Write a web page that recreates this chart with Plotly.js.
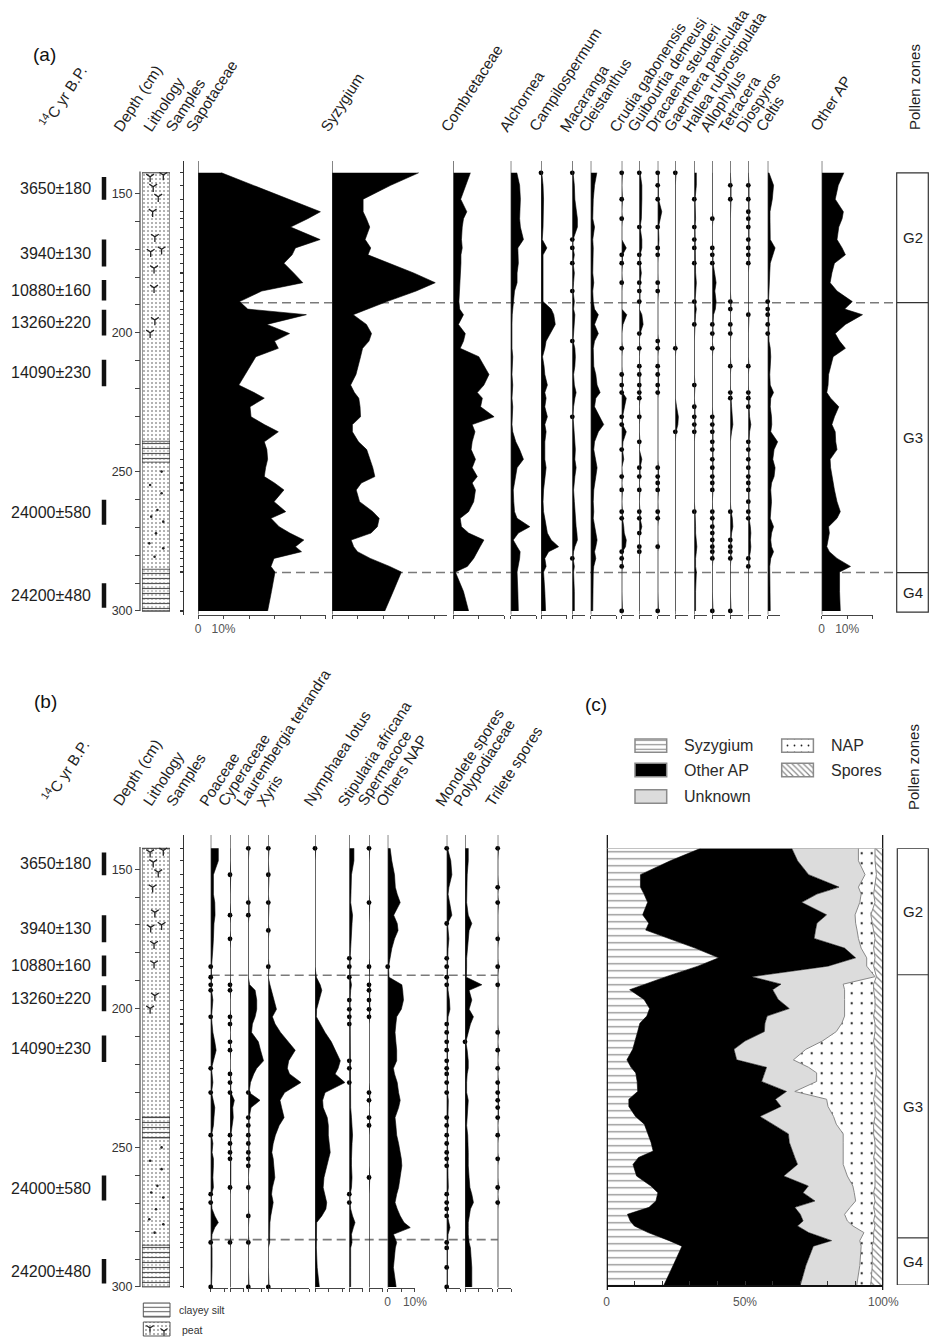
<!DOCTYPE html>
<html>
<head>
<meta charset="utf-8">
<script src="https://cdn.plot.ly/plotly-3.0.1.min.js"></script>
<style>
html,body{margin:0;padding:0;background:#fff;}
#chart{width:934px;height:1342px;}
</style>
</head>
<body>
<div id="chart"></div>
<script>
// ================= DATA =================
const depths = [142.5, 147, 152, 156.5, 159, 162, 166.5, 169.5, 172, 175,
  178.5, 182, 185, 188.8, 191.5, 193.5, 197, 200.3, 203, 205.6,
  208.6, 212, 215, 218.8, 221.5, 223.5, 226.6, 230.2, 233, 235.6,
  239.2, 242, 245.5, 248.5, 251.7, 254, 256.5, 260.7, 264.3, 266.7,
  269.7, 272, 274.5, 276.9, 278.7, 281.1, 284, 286, 293, 300];

// (a) arboreal pollen, %
const sapotaceae = [9.2, 21.6, 35.4, 48, 43, 36.3, 47.9, 38.2, 36.9, 33.7,
  37.5, 41.1, 25, 16.3, 19.5, 42.5, 27, 35.9, 30, 31.5,
  22.7, 20.5, 18.5, 16, 22, 26, 20.4, 20.8, 26, 31.5,
  26, 27, 27.3, 26.5, 26, 30, 33.7, 29.8, 34.4, 28.6,
  31.8, 36, 41.5, 38.2, 40.6, 29.8, 28.6, 30.2, 28.8, 27.3];
const syzygium = [34, 23, 12.2, 12.2, 13.5, 14.8, 13, 15.2, 14.1, 22.4,
  32, 40.5, 33, 21.5, 14, 8.3, 13.5, 15.5, 14.5, 12,
  11.2, 10.2, 9.4, 7.3, 8.8, 10.5, 11, 11.2, 8, 8,
  10.4, 13.6, 15, 16, 16.8, 11.5, 9.5, 10.8, 16, 18.5,
  17.8, 15.3, 7.5, 8.5, 10, 15, 22.6, 27.2, 24, 20.7];
const combretaceae = [6.7, 5, 2.9, 5.3, 4, 3.5, 3.2, 3.5, 3, 3,
  2.8, 2.5, 2.5, 2.2, 2.5, 4, 2, 4.7, 4, 2.7,
  10, 12, 14, 12, 9.4, 11.4, 10.7, 16, 7.4, 8.5,
  7.4, 7, 8.7, 7.4, 9.4, 7.4, 8.7, 8, 6, 2.7,
  3.2, 6, 12, 10.5, 9.4, 8, 5.5, 0.8, 4, 6];
const alchornea = [2.4, 3.5, 3.8, 3.5, 3.5, 3.8, 5, 2.8, 3, 3,
  2.5, 2.5, 1.5, 1, 0.8, 0.6, 0.5, 0.5, 0.6, 0.5,
  0.8, 0.6, 0.5, 0.8, 0.6, 0.5, 0.8, 0.6, 0.5, 0.8,
  2, 3.5, 5, 2.5, 2, 1.5, 1, 1.2, 1.5, 2.5,
  7.5, 3, 1, 2.5, 3.7, 3.5, 3, 2.5, 2.8, 3];
const campilospermum = [0.3, 0.8, 1, 1, 0.8, 0.8, 0.5, 2.3, 0.8, 0.8,
  0.8, 1, 0.8, 0.8, 4, 5, 5.6, 3.5, 2, 1.5,
  0.6, 1.2, 1.5, 2.5, 1.5, 2, 1.5, 2.5, 1.5, 2,
  1.5, 1.5, 1.5, 2, 1.5, 1.2, 1, 0.8, 1, 1.5,
  2, 2.5, 4, 6.9, 3, 1.5, 2, 1, 1.5, 1.8];
const macaranga = [0.3, 0.8, 1, 1.5, 2, 2, 0.3, 0.3, 0.8, 0.3,
  0.8, 0.5, 0.3, 0.8, 0.5, 1, 0.8, 0.5, 0.3, 1,
  1.2, 1, 0.5, 0.8, 1.5, 1, 0.5, 0.3, 0.5, 0.8,
  1, 1.2, 1, 1.5, 1, 0.8, 0.5, 0.8, 1, 1.2,
  1.5, 1.8, 2, 1, 0.5, 0.3, 0.8, 0.5, 0.8, 0.8];
const cleistanthus = [2.4, 1.5, 1, 1, 0.8, 1.5, 0.8, 1, 1, 0.8,
  0.8, 1.2, 0.8, 1, 1.5, 3, 1.5, 3, 1.5, 1,
  1, 1.2, 2, 2.5, 3.7, 2, 1.5, 3.5, 5.1, 3,
  1.5, 1.2, 2, 2.5, 2, 1.5, 1.2, 1, 1.2, 1,
  1.5, 2, 2.5, 2, 1.5, 2, 1.2, 1, 0.8, 0.8];
const crudia = [0.3, 0, 0.3, 0, 0.3, 0, 0, 1.8, 0.3, 0.3,
  0, 0.3, 0, 0, 0, 2, 0.5, 0, 0, 0.3,
  0, 0, 0.3, 0.3, 0.3, 1.8, 1, 0.3, 0.3, 1.8,
  0.5, 0.3, 0.8, 0, 0.3, 0, 0.3, 0, 0.3, 0.3,
  0.8, 1, 1.8, 1.5, 0.3, 0.3, 0.3, 0, 0, 0.3];
const guibourtia = [0.3, 1, 1, 1, 0.8, 0.3, 1, 1, 0.3, 0.3,
  0.8, 0.3, 0.3, 0.3, 0, 1, 1.5, 0.3, 0, 0.3,
  0, 0.3, 0.3, 0.3, 0.3, 0.3, 0, 0.3, 0, 0,
  0.3, 0, 1, 0.3, 0.3, 0, 0.3, 0, 0.3, 0.3,
  1, 0.3, 0, 0.3, 0.3, 0, 0, 0, 0, 0];
const dracaena = [0.3, 0.3, 0.3, 1.6, 1, 0.3, 0.5, 0.3, 0.3, 0,
  0, 0.3, 0.3, 0, 0, 0, 0, 0, 0.3, 0.3,
  0, 0.3, 0.3, 0.3, 0.3, 0, 0, 0, 0, 0,
  0, 0, 0, 0.3, 0.3, 0.3, 0.3, 0, 0.3, 0.3,
  0, 0, 0, 0.3, 0, 0, 0, 0, 0, 0.3];
const gaertnera = [0.3, 0, 0, 0, 0, 0, 0, 0, 0, 0,
  0, 0, 0, 0, 0, 0, 0, 0, 0, 0.3,
  0, 0, 0, 0, 0, 0, 0.5, 1.2, 1, 0.3,
  0, 0, 0, 0, 0, 0, 0, 0, 0, 0,
  0, 0, 0, 0, 0, 0, 0, 0, 0, 0];
const hallea = [0.8, 0.8, 0.3, 0.5, 0.5, 0.3, 0.3, 0.3, 0.5, 0.3,
  0.5, 0.8, 0.5, 0.3, 0.8, 0.5, 0.3, 0, 0, 0,
  0, 0, 0, 0.3, 0, 0, 0.3, 0.3, 0.3, 0.3,
  0, 0, 0, 0, 0, 0, 0, 0, 0.3, 0.5,
  0.5, 0.5, 0.8, 1, 0.8, 0.5, 0.5, 0.8, 0.5, 0.5];
const allophylus = [0, 0, 0, 0, 0.3, 0, 0, 0.3, 0.3, 0.3,
  0.8, 1.5, 1, 1.5, 1.2, 0.5, 0.3, 0.3, 0, 0.3,
  0, 0, 0, 0, 0, 0, 0, 0.3, 0.3, 0.3,
  0.3, 0.3, 0.3, 0.3, 0.3, 0.3, 0.3, 0, 0.3, 0.3,
  0.3, 0.3, 0.3, 0.3, 0.3, 0.3, 0, 0, 0, 0.3];
const tetracera = [0, 0.3, 0.3, 0, 0, 0, 0, 0, 0, 0,
  0, 0, 0, 0.3, 0.3, 0, 0.3, 0.3, 0, 0,
  0, 0.3, 0, 0, 0.3, 0.3, 0.5, 0.8, 1, 0.5,
  0, 0, 0, 0, 0, 0, 0, 0, 0.3, 0.8,
  1, 0.5, 0.3, 0.3, 0.3, 0.3, 0, 0, 0, 0.3];
const diospyros = [0, 0.3, 0.3, 0.3, 0.3, 0.3, 0.3, 0.3, 0.3, 0.3,
  0, 0, 0, 0, 0, 0.3, 0, 0, 0, 0,
  0, 0.3, 0, 0, 0.3, 0.3, 0.3, 0.5, 1, 0.5,
  0.3, 0.3, 0.3, 0.3, 0.3, 0.3, 0.3, 0.3, 0.3, 0.3,
  0.8, 1, 0.8, 1, 0.8, 0.3, 0.3, 0, 0, 0];
const celtis = [0.5, 2.3, 1.8, 0.9, 0.9, 1, 1, 2.9, 2, 1,
  0.8, 0.5, 0.5, 0.3, 0.3, 0.3, 0.3, 0.3, 0.5, 1,
  1.2, 1, 0.8, 1, 2.3, 1.2, 1, 1.5, 1.6, 1.2,
  3.9, 2.5, 2, 2.9, 2.5, 1.5, 1.2, 1.5, 1.2, 1,
  2.3, 1.5, 1.2, 1.5, 2.3, 1.2, 0.8, 0.8, 0.9, 1];
const otherAP = [8.7, 6.5, 5.3, 8.5, 8, 6.7, 6, 8, 9.3, 5,
  4, 3.3, 6, 12, 9, 16, 9.3, 5.3, 7, 9.3,
  4.5, 3.5, 2.7, 2.5, 2, 3.5, 6.7, 5, 4, 5.3,
  5.5, 6, 3.3, 3.5, 4, 4.5, 5, 6, 7.3, 6,
  2.7, 3, 2.5, 2, 3, 6, 11.3, 7, 7, 7.3];

// (b) non-arboreal pollen and spores, %
const poaceae = [2.8, 2.8, 1, 1, 1, 1.5, 1.6, 1.2, 1, 1,
  0.8, 0.5, 0.3, 0.3, 0.3, 0.3, 0.8, 0.5, 0.3, 0.5,
  0.8, 1.5, 2, 1, 0.3, 0.5, 0.8, 0.3, 1, 1.5,
  1.2, 1, 0.3, 0.8, 0.5, 1, 1, 0.8, 1, 0.3,
  0.3, 0.5, 1.5, 2.8, 1.5, 0.5, 0.3, 0.5, 0.5, 0.3];
const cyperaceae = [0, 0, 0.3, 0, 0, 0, 0.3, 0, 0, 0.3,
  0, 0, 0, 0, 0.3, 0.3, 0, 0, 0.3, 0.3,
  0, 0.3, 0.3, 0, 0, 0.3, 0.3, 0.3, 1.6, 1,
  1.2, 0.8, 0.3, 0.3, 0.3, 0.3, 0.5, 0.5, 0.3, 0,
  0, 0, 0, 0, 0, 0, 0.3, 0, 0, 0];
const laurembergia = [0.3, 0, 0, 0, 0, 0.3, 0.3, 0, 0, 0,
  0, 0, 0, 0, 0.5, 2.5, 3.1, 3.1, 2.5, 1.5,
  1.2, 3.7, 4.5, 5.6, 3.1, 2, 0.8, 0.3, 4.3, 1,
  0.3, 0.3, 0.3, 0.3, 0.3, 0.3, 0.3, 0, 0.3, 0,
  0, 0, 0.3, 0, 0, 0, 0.3, 0, 0, 0.3];
const xyris = [0.3, 0, 0.3, 0, 0, 0.3, 0, 0, 0.3, 0,
  0, 0, 0.3, 0, 0.6, 1.2, 2.2, 3, 1.5, 2.5,
  4.5, 7.5, 9.9, 7.5, 7, 7.8, 12, 6, 4.3, 4.9,
  5.8, 4, 2.6, 1.8, 1.3, 1.8, 2.1, 2.4, 1.5, 1.2,
  1.8, 1.3, 0.9, 0.6, 0.5, 0.5, 0.5, 0, 0, 0.3];
const nymphaea = [0.3, 0, 0, 0, 0, 0, 0, 0, 0, 0,
  0, 0, 0, 0.5, 1.9, 2.5, 1.5, 0.6, 0.5, 2,
  3.7, 6, 7.5, 9.3, 8.5, 7.4, 11, 3.7, 2.8, 3,
  4.5, 4.9, 4.9, 5.2, 5.6, 5, 4.3, 3.3, 3, 3.5,
  4.3, 4, 2.5, 0.6, 0.6, 0.5, 0.5, 0.5, 0.8, 1.6];
const stipularia = [1.7, 1.7, 0.8, 0.8, 0.6, 0.5, 1.2, 1, 0.8, 0.8,
  0.5, 0.3, 0.3, 0.3, 0.8, 0.5, 0.3, 0.3, 0.3, 0.3,
  0.5, 0.5, 0.5, 0.3, 0.3, 0.5, 0.3, 0.5, 0.5, 0.5,
  0.8, 1, 1.2, 1, 0.8, 0.8, 0.8, 1, 0.8, 0.3,
  0.3, 0.5, 1.2, 2.1, 1.5, 0.8, 1, 0.5, 0.5, 0.5];
const spermacoce = [0.3, 0, 0, 0, 0, 0.3, 0, 0, 0, 0,
  0, 0, 0.3, 0, 0.3, 0.3, 0.3, 0.3, 0.3, 0,
  0, 0, 0, 0, 0, 0, 0, 0.3, 0.3, 0,
  0.3, 0.3, 0, 0, 0, 0, 0, 0.3, 0, 0,
  0, 0, 0, 0, 0, 0, 0, 0, 0, 0];
const othersNAP = [0.9, 1.5, 2.5, 2.8, 3.5, 4.6, 2.2, 3.5, 3.8, 2.5,
  1.5, 0.9, 0.3, 0.5, 5.2, 5.5, 5.8, 5, 3.3, 3,
  2.7, 3, 3.3, 3.3, 2.1, 2.5, 3.5, 4, 4.6, 4,
  2.7, 3, 3.3, 4, 4.6, 5, 5.2, 4.5, 4, 3.3,
  2.7, 3.5, 4.6, 6, 8.3, 2.1, 3.3, 2.8, 2.1, 3.1];
const monolete = [0.3, 1.5, 1.9, 0.8, 0.5, 1, 1.9, 0.3, 0.5, 0.8,
  0.5, 0.3, 0.3, 0.3, 0.3, 0.5, 1, 1.2, 0.5, 0.3,
  0.3, 0.3, 0.3, 0.3, 0.3, 0.3, 0.3, 0.3, 0.6, 0.5,
  0.3, 0.3, 0.3, 0.3, 0.3, 0.3, 0.3, 0.5, 0.6, 0.3,
  0.3, 0.3, 0.3, 0.8, 1.2, 0.5, 0.3, 0.3, 0.3, 0.3];
const polypodiaceae = [1.2, 1.2, 0.8, 0.8, 0.6, 0.6, 1.2, 2.5, 1.5, 1.2,
  0.8, 0.6, 0.6, 0.5, 6.2, 1.5, 2.5, 1.5, 3.1, 2,
  1.2, 0.3, 0.8, 1.2, 1.2, 0.8, 0.6, 0.6, 1.2, 1,
  0.6, 0.6, 1, 1.2, 1.2, 1.2, 1.2, 1.5, 1.8, 2.5,
  3.1, 2, 1.5, 1.2, 1.2, 1.2, 1.5, 2, 2.5, 2.5];
const trilete = [0.3, 0, 0, 0.3, 0, 0.3, 0, 0, 0, 0.3,
  0, 0, 0.3, 0, 0.3, 0, 0, 0, 0, 0,
  0.3, 0, 0.3, 0, 0.3, 0, 0.3, 0.3, 0.3, 0.3,
  0.3, 0, 0.3, 0, 0, 0.3, 0, 0, 0.3, 0,
  0.3, 0, 0, 0, 0, 0, 0, 0, 0, 0];

// (c) pollen sum groups, % (Syzygium reused from above)
const otherAPsum = [32.9, 46, 60.8, 71.8, 62.5, 55.7, 66.5, 60.8, 61.4, 52.6,
  54, 49.5, 47, 30.9, 49, 51.7, 48.5, 50.5, 43.5, 45.2,
  45.8, 39.8, 36.6, 39.7, 49, 46.5, 45, 53.8, 53, 55,
  45, 46.4, 50.7, 50, 50.2, 56.5, 59.5, 53.2, 56.9, 52.5,
  57.5, 52.7, 62.5, 62.5, 59, 58, 58.7, 47.5, 48, 49.3];
const unknownSum = [24.1, 22, 20.4, 7, 16, 21, 10.3, 14, 15, 16,
  6, 4, 14, 44.6, 22.5, 26, 24, 20, 28, 27.8,
  26, 28, 26, 20.5, 15.2, 18.9, 19.9, 3, 18.5, 17,
  26.6, 23, 19.8, 19.5, 18.5, 17.5, 16.5, 23, 16.1, 18.5,
  14.7, 20, 16, 16, 20, 20, 10.2, 17.3, 19.5, 20.4];
const napSum = [6, 6, 4.1, 6, 4.5, 5.5, 5.7, 6, 6, 6,
  4.5, 3, 2.5, 0.5, 11, 10.5, 11, 11, 10.5, 12,
  14, 18.5, 25, 29.5, 24, 21.6, 21.1, 29, 17, 17,
  15, 13.5, 11, 11.5, 11.5, 11, 11.5, 10, 8, 7,
  7, 8.5, 11, 9.5, 8, 3.5, 5, 4, 4.5, 5.1];
const sporesSum = [3, 3, 2.5, 3, 3.5, 3, 4.5, 4, 3.5, 3,
  3.5, 3, 3.5, 2.5, 3.5, 3.5, 3, 3, 3.5, 3,
  3, 3.5, 3, 3, 3, 2.5, 3, 3, 3.5, 3,
  3, 3.5, 3.5, 3, 3, 3.5, 3, 3, 3, 3.5,
  3, 3.5, 3, 3.5, 3, 3.5, 3.5, 4, 4, 4.5];

// radiocarbon dates (depth ranges in cm)
const dateLabels = ['3650±180', '3940±130', '10880±160', '13260±220', '14090±230', '24000±580', '24200±480'];
const dateTop = [144, 166.5, 181, 191.7, 209.7, 260, 290];
const dateBottom = [152.2, 176.2, 188.4, 201, 219.2, 269, 298.8];

// pollen zones
const zoneNames = ['G2', 'G3', 'G4'];
const zoneBoundsA = [189.2, 286.2];
const zoneBoundsBC = [188.1, 283];

// lithology
const lithoTop = [142.5, 239, 246.5, 285];
const lithoBottom = [239, 246.5, 285, 300];
const lithoUnit = ['peat', 'clayey silt', 'peat', 'clayey silt'];
const peatMarkDepth = [143.9, 143.3, 147.5, 151.1, 156.5, 165.5, 170.9, 170, 176.8, 183.8, 195.4, 200];
const peatMarkPos = [0.29, 0.76, 0.4, 0.58, 0.38, 0.46, 0.31, 0.7, 0.43, 0.43, 0.46, 0.29];
const grainDepth = [249.9, 254.7, 257.7, 263.7, 266.1, 267.9, 272.1, 275.7, 277.5, 280.5];
const grainPos = [0.7, 0.29, 0.7, 0.55, 0.33, 0.76, 0.5, 0.26, 0.76, 0.45];

const depthTicks = [150, 160, 170, 180, 190, 200, 210, 220, 230, 240, 250, 260, 270, 280, 290, 300];

// ================= BUILD =================
const W = 934, H = 1342;
const PX = v => v / W, PY = v => 1 - v / H;
const INK = '#1e1e1e';
const FAM = 'Liberation Sans, Arial, Helvetica, sans-serif';
const traces = [], shapes = [], annotations = [];
const layout = {
  width: W, height: H, margin: {l: 0, r: 0, t: 0, b: 0},
  paper_bgcolor: '#fff', plot_bgcolor: 'rgba(0,0,0,0)',
  showlegend: false, barmode: 'overlay',
  font: {family: FAM, color: INK, size: 12},
  shapes: shapes, annotations: annotations
};
let axN = 0;
function newX(spec) {
  axN++;
  layout[axN === 1 ? 'xaxis' : 'xaxis' + axN] = spec;
  return axN === 1 ? 'x' : 'x' + axN;
}
const yKey = y => 'yaxis' + y.slice(1);

const cv = document.createElement('canvas').getContext('2d');
function tw(str, size) { cv.font = size + 'px "Liberation Sans", Arial, sans-serif'; return cv.measureText(str).width; }
const HS = 15.2, HA = 57;
function header(text, bx, by, len) {
  const L = len !== undefined ? len : tw(text, HS);
  const th = HA * Math.PI / 180, c = Math.cos(th), s = Math.sin(th);
  const up = 0.33 * HS;
  const cx = bx + (L / 2) * c - up * s;
  const cy = by - (L / 2) * s - up * c;
  return {text: text, x: PX(cx), y: PY(cy), xref: 'paper', yref: 'paper', xanchor: 'center', yanchor: 'middle',
    textangle: -HA, showarrow: false, font: {size: HS, color: INK}};
}
const c14len = tw('14', HS * 0.7) + tw('C yr B.P.', HS);

function lithology(P) {
  const xa = newX({domain: [PX(142), PX(170)], range: [0, 1], anchor: P.y, visible: false, fixedrange: true});
  const top = lithoTop[0], bot = lithoBottom[lithoBottom.length - 1];
  traces.push({type: 'bar', x: [0.5], y: [bot - top], base: [top], width: [1], xaxis: xa, yaxis: P.y,
    marker: {color: '#fff', pattern: {shape: '.', fgcolor: '#9a9a9a', bgcolor: '#fff', size: 4, solidity: 0.2},
      line: {color: '#333', width: 1}}, hoverinfo: 'skip'});
  const cs = lithoUnit.map((u, i) => u === 'clayey silt' ? i : -1).filter(i => i >= 0);
  traces.push({type: 'bar', x: cs.map(() => 0.5), y: cs.map(i => lithoBottom[i] - lithoTop[i]), base: cs.map(i => lithoTop[i]),
    width: cs.map(() => 1), xaxis: xa, yaxis: P.y,
    marker: {color: 'rgba(255,255,255,0.3)', pattern: {shape: '-', fgcolor: '#555', bgcolor: 'rgba(255,255,255,0.3)', size: 5, solidity: 0.24},
      line: {color: '#333', width: 0.8}}, hoverinfo: 'skip'});
  traces.push({type: 'scatter', mode: 'markers', x: peatMarkPos, y: peatMarkDepth, xaxis: xa, yaxis: P.y,
    marker: {symbol: 'y-down', size: 6.5, color: '#222', line: {color: '#222', width: 1.3}}, cliponaxis: false, hoverinfo: 'skip'});
  traces.push({type: 'scatter', mode: 'markers', x: grainPos, y: grainDepth, xaxis: xa, yaxis: P.y,
    marker: {symbol: 'circle', size: 2.6, color: '#222'}, hoverinfo: 'skip'});
  return xa;
}

function datesCol(P) {
  const xa = newX({domain: [PX(101.5), PX(106.5)], range: [0, 1], anchor: P.y, visible: false, fixedrange: true});
  traces.push({type: 'bar', x: dateLabels.map(() => 0.5), base: dateTop, y: dateTop.map((t, i) => dateBottom[i] - t),
    width: dateLabels.map(() => 1), xaxis: xa, yaxis: P.y, marker: {color: '#111', line: {width: 0}}, hoverinfo: 'skip'});
  dateLabels.forEach((lab, i) => annotations.push({text: lab, xref: 'paper', x: PX(93), xanchor: 'right',
    yref: P.y, y: (dateTop[i] + dateBottom[i]) / 2, yanchor: 'middle', showarrow: false, font: {size: 16, color: INK}}));
}

function panel(P, cols) {
  const xl = lithology(P);
  datesCol(P);
  layout[yKey(P.y)] = {domain: [PY(P.bottom), PY(P.top)], range: P.range, anchor: 'free', position: PX(140), side: 'left',
    tickmode: 'array', tickvals: depthTicks, ticktext: depthTicks.map(v => v % 50 === 0 ? String(v) : ''),
    ticks: 'outside', ticklen: 5, tickcolor: '#444', tickwidth: 1, showline: false, showgrid: false, zeroline: false,
    tickfont: {size: 12.5, color: '#333'}, fixedrange: true};
  layout[yKey(P.ySam)] = {overlaying: P.y, range: P.range, anchor: 'free', position: PX(183), side: 'left',
    tickmode: 'array', tickvals: depths, ticks: 'outside', ticklen: 3.5, tickcolor: '#333', tickwidth: 1.1,
    showticklabels: false, showline: true, linecolor: '#333', linewidth: 1.2, showgrid: false, zeroline: false, fixedrange: true};
  traces.push({type: 'scatter', mode: 'markers', x: [null], y: [null], xaxis: xl, yaxis: P.ySam, hoverinfo: 'skip'});
  shapes.push({type: 'line', xref: 'paper', yref: P.y, x0: PX(140), x1: PX(140), y0: 142, y1: 300, line: {color: '#444', width: 1.2}});
  // dashed zone boundaries
  P.zones.forEach(z => shapes.push({type: 'line', xref: 'paper', yref: P.y, x0: PX(P.dashFrom), x1: PX(P.dashTo), y0: z, y1: z,
    line: {color: '#7a7a7a', width: 1.6, dash: '9px,5px'}, layer: 'below'}));
  // headers
  annotations.push(header('<sup>14</sup>C yr B.P.', P.c14x, P.headBase - 4, c14len));
  annotations.push(header('Depth (cm)', 121, P.headBase));
  annotations.push(header('Lithology', 151, P.headBase));
  annotations.push(header('Samples', 174, P.headBase));
  cols.forEach(col => {
    const ax = {domain: [PX(col.x), PX(col.x + col.max * P.scale)], range: [0, col.max], anchor: P.y,
      showline: true, linecolor: '#444', linewidth: 1.2, ticks: 'outside', ticklen: 3, tickcolor: '#444', tickwidth: 1,
      tickmode: 'linear', tick0: 0, dtick: P.dtick, showticklabels: false, showgrid: false, zeroline: false, fixedrange: true};
    if (col.labels) {
      const tv = []; for (let t = 0; t <= col.max + 1e-9; t += P.dtick) tv.push(t);
      Object.assign(ax, {tickmode: 'array', tickvals: tv, ticktext: tv.map(t => t === 0 ? '0' : (t === 10 ? '10%' : '')),
        showticklabels: true, tickfont: {size: 12, color: '#555'}});
    }
    const xa = newX(ax);
    traces.push({type: 'scatter', mode: 'lines', x: col.v, y: depths, xaxis: xa, yaxis: P.y, fill: 'tozerox',
      fillcolor: '#000', line: {color: '#000', width: 0.6}, hoverinfo: 'skip'});
    const pd = depths.filter((d, i) => col.v[i] > 0 && col.v[i] < 0.5);
    if (pd.length) traces.push({type: 'scatter', mode: 'markers', x: pd.map(() => 0), y: pd, xaxis: xa, yaxis: P.y,
      marker: {size: 4.8, color: '#000'}, cliponaxis: false, hoverinfo: 'skip'});
    shapes.push({type: 'line', xref: xa, yref: P.y + ' domain', x0: 0, x1: 0, y0: 0, y1: 1, line: {color: '#333', width: 1.2}});
    annotations.push(header(col.name, col.x - 4, P.headBase));
  });
}

const colsA = [
  {name: 'Sapotaceae', v: sapotaceae, x: 198, max: 50, labels: true},
  {name: 'Syzygium', v: syzygium, x: 332, max: 45},
  {name: 'Combretaceae', v: combretaceae, x: 453.3, max: 20},
  {name: 'Alchornea', v: alchornea, x: 510.7, max: 10},
  {name: 'Campilospermum', v: campilospermum, x: 541, max: 10},
  {name: 'Macaranga', v: macaranga, x: 572.3, max: 5},
  {name: 'Cleistanthus', v: cleistanthus, x: 590.7, max: 10},
  {name: 'Crudia gabonensis', v: crudia, x: 621.7, max: 5},
  {name: 'Guibourtia demeusi', v: guibourtia, x: 639.3, max: 5},
  {name: 'Dracaena steuderi', v: dracaena, x: 657.7, max: 5},
  {name: 'Gaertnera paniculata', v: gaertnera, x: 675.3, max: 5},
  {name: 'Hallea rubrostipulata', v: hallea, x: 694.3, max: 5},
  {name: 'Allophylus', v: allophylus, x: 712.3, max: 5},
  {name: 'Tetracera', v: tetracera, x: 730.3, max: 5},
  {name: 'Diospyros', v: diospyros, x: 748.3, max: 5},
  {name: 'Celtis', v: celtis, x: 767.7, max: 5},
  {name: 'Other AP', v: otherAP, x: 821.7, max: 20, labels: true}
];
const colsB = [
  {name: 'Poaceae', v: poaceae, x: 210.7, max: 6.5},
  {name: 'Cyperaceae', v: cyperaceae, x: 230, max: 5},
  {name: 'Laurembergia tetrandra', v: laurembergia, x: 248.3, max: 6},
  {name: 'Xyris', v: xyris, x: 268.3, max: 15},
  {name: 'Nymphaea lotus', v: nymphaea, x: 315, max: 11},
  {name: 'Stipularia africana', v: stipularia, x: 349.3, max: 5},
  {name: 'Spermacoce', v: spermacoce, x: 369, max: 5},
  {name: 'Others NAP', v: othersNAP, x: 387.7, max: 10, labels: true},
  {name: 'Monolete spores', v: monolete, x: 446.7, max: 5},
  {name: 'Polypodiaceae', v: polypodiaceae, x: 465, max: 10},
  {name: 'Trilete spores', v: trilete, x: 497.7, max: 5}
];

const PA = {y: 'y', ySam: 'y3', top: 161, bottom: 614.5, range: [301.27, 138.26], headBase: 132.5, c14x: 47,
  scale: 2.55, dtick: 10, zones: zoneBoundsA, dashFrom: 198, dashTo: 896.7};
const PB = {y: 'y2', ySam: 'y4', top: 835, bottom: 1287.5, range: [300.2, 137.72], headBase: 807, c14x: 50,
  scale: 2.72, dtick: 5, zones: zoneBoundsBC, dashFrom: 210.7, dashTo: 497.7};
panel(PA, colsA);
panel(PB, colsB);

// zone boxes
function zoneBox(yref, x0, x1, top, bottom, bounds) {
  shapes.push({type: 'rect', xref: 'paper', yref: yref, x0: PX(x0), x1: PX(x1), y0: top, y1: bottom, line: {color: '#333', width: 1.2}});
  bounds.forEach(b => shapes.push({type: 'line', xref: 'paper', yref: yref, x0: PX(x0), x1: PX(x1), y0: b, y1: b, line: {color: '#333', width: 1.2}}));
  const edges = [top].concat(bounds, [bottom]);
  zoneNames.forEach((z, i) => annotations.push({text: z, xref: 'paper', x: PX((x0 + x1) / 2), xanchor: 'center',
    yref: yref, y: (edges[i] + edges[i + 1]) / 2, yanchor: 'middle', showarrow: false, font: {size: 15, color: INK}}));
}
zoneBox('y', 896.7, 928.3, 142.5, 300.4, zoneBoundsA);

// ---- panel (c) ----
const xc = newX({domain: [PX(606.7), PX(883.3)], range: [0, 100], anchor: 'y5', showline: true, linecolor: '#111', linewidth: 2,
  ticks: 'inside', ticklen: 4, tickcolor: '#333', tickmode: 'array', tickvals: [0, 10, 20, 30, 40, 50, 60, 70, 80, 90, 100],
  ticktext: ['0', '', '', '', '', '50%', '', '', '', '', '100%'], tickfont: {size: 12, color: '#555'}, ticklabelstandoff: 5,
  showgrid: false, zeroline: false, fixedrange: true});
layout.yaxis5 = {domain: [PY(1285), PY(848.3)], range: [300, 142.5], anchor: xc, visible: false, fixedrange: true};
const bands = [
  {name: 'Syzygium', v: syzygium, fc: '#fff', pat: {shape: '-', fgcolor: '#8c8c8c', bgcolor: '#fff', size: 7, solidity: 0.18}, line: {color: '#000', width: 0.6}},
  {name: 'Other AP', v: otherAPsum, fc: '#000', line: {color: '#000', width: 0.6}},
  {name: 'Unknown', v: unknownSum, fc: '#dcdcdc', line: {color: '#888', width: 1}},
  {name: 'NAP', v: napSum, fc: '#fff', pat: {shape: '.', fgcolor: '#222', bgcolor: '#fff', size: 10, solidity: 0.04}, line: {color: '#888', width: 1}},
  {name: 'Spores', v: sporesSum, fc: '#fff', pat: {shape: '\\', fgcolor: '#888', bgcolor: '#fff', size: 5, solidity: 0.25}, line: {color: '#888', width: 0.8}}
];
bands.forEach(b => {
  const t = {type: 'scatter', mode: 'lines', name: b.name, x: b.v, y: depths, xaxis: xc, yaxis: 'y5', stackgroup: 'c',
    orientation: 'h', fillcolor: b.fc, line: b.line, hoverinfo: 'skip'};
  if (b.pat) t.fillpattern = b.pat;
  traces.push(t);
});
shapes.push({type: 'line', xref: xc, yref: 'paper', x0: 0, x1: 0, y0: PY(835), y1: PY(1290), line: {color: '#111', width: 2.5}});
shapes.push({type: 'line', xref: xc, yref: 'paper', x0: 100, x1: 100, y0: PY(835), y1: PY(1290), line: {color: '#111', width: 2.5}});
shapes.push({type: 'line', xref: xc, yref: 'y5', x0: 0, x1: 100, y0: depths[0], y1: depths[0], line: {color: '#999', width: 1}});
zoneBox('y5', 897.3, 928.3, 142.5, 300, zoneBoundsBC);

// ---- legends (pixel-space overlay) ----
const xL = newX({domain: [0, 1], range: [0, W], anchor: 'y6', visible: false, fixedrange: true});
layout.yaxis6 = {domain: [0, 1], range: [H, 0], anchor: xL, visible: false, fixedrange: true};
function swatch(x0, w, yc, h, marker) {
  traces.push({type: 'bar', orientation: 'h', base: [x0], x: [w], y: [yc], width: [h], xaxis: xL, yaxis: 'y6', marker: marker, hoverinfo: 'skip'});
}
const sw = {line: {color: '#8a8a8a', width: 1.5}};
swatch(635, 31.7, 745.7, 13.3, Object.assign({color: '#fff', pattern: {shape: '-', fgcolor: '#8a8a8a', bgcolor: '#fff', size: 4.5, solidity: 0.25}}, sw));
swatch(635, 31.7, 770, 13.3, Object.assign({color: '#000'}, sw));
swatch(635, 31.7, 796.5, 13.3, Object.assign({color: '#dcdcdc'}, sw));
swatch(781.7, 31.7, 745.7, 13.3, Object.assign({color: '#fff', pattern: {shape: '.', fgcolor: '#222', bgcolor: '#fff', size: 7, solidity: 0.05}}, sw));
swatch(781.7, 31.7, 770, 13.3, Object.assign({color: '#fff', pattern: {shape: '\\', fgcolor: '#8a8a8a', bgcolor: '#fff', size: 4, solidity: 0.3}}, sw));
[['Syzygium', 682, 745.7], ['Other AP', 682, 770], ['Unknown', 682, 796.5], ['NAP', 829, 745.7], ['Spores', 829, 770]].forEach(a =>
  annotations.push({text: a[0], xref: 'paper', yref: 'paper', x: PX(a[1]), y: PY(a[2]), xanchor: 'left', yanchor: 'middle',
    showarrow: false, font: {size: 16, color: '#2a2a2a'}}));
// lithology legend
swatch(143.3, 26.7, 1310, 14, {color: '#fff', pattern: {shape: '-', fgcolor: '#555', bgcolor: '#fff', size: 4.5, solidity: 0.22}, line: {color: '#555', width: 1}});
swatch(143.3, 26.7, 1329, 14, {color: '#fff', pattern: {shape: '.', fgcolor: '#999', bgcolor: '#fff', size: 4, solidity: 0.2}, line: {color: '#555', width: 1}});
traces.push({type: 'scatter', mode: 'markers', x: [150, 164], y: [1328, 1331], xaxis: xL, yaxis: 'y6',
  marker: {symbol: 'y-down', size: 6, color: '#222', line: {color: '#222', width: 1.2}}, hoverinfo: 'skip'});
annotations.push({text: 'clayey silt', xref: 'paper', yref: 'paper', x: PX(177), y: PY(1310), xanchor: 'left', yanchor: 'middle', showarrow: false, font: {size: 10.5, color: '#333'}});
annotations.push({text: 'peat', xref: 'paper', yref: 'paper', x: PX(180), y: PY(1329.5), xanchor: 'left', yanchor: 'middle', showarrow: false, font: {size: 10.5, color: '#333'}});

// panel labels and zone headers
[['(a)', 44, 54], ['(b)', 45, 702], ['(c)', 596, 704]].forEach(a =>
  annotations.push({text: a[0], xref: 'paper', yref: 'paper', x: PX(a[1]), y: PY(a[2]), xanchor: 'center', yanchor: 'middle',
    showarrow: false, font: {size: 19, color: '#111'}}));
[[914, 87], [913, 767]].forEach(a =>
  annotations.push({text: 'Pollen zones', xref: 'paper', yref: 'paper', x: PX(a[0]), y: PY(a[1]), xanchor: 'center', yanchor: 'middle',
    textangle: -90, showarrow: false, font: {size: 15, color: INK}}));

Plotly.newPlot('chart', traces, layout, {displayModeBar: false, staticPlot: true});
</script>
</body>
</html>
